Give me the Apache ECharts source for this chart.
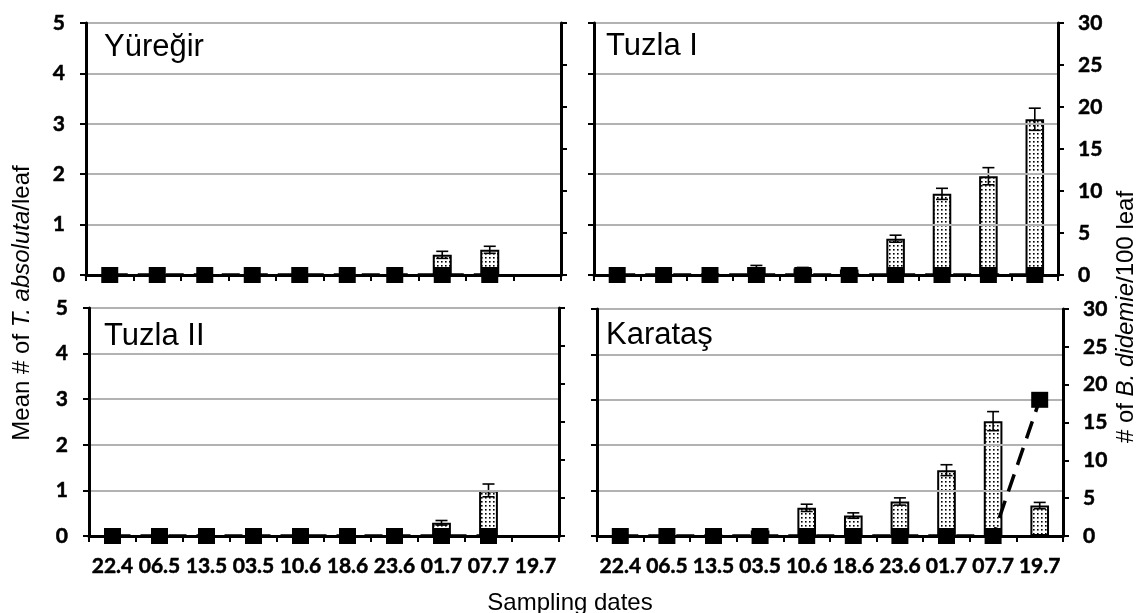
<!DOCTYPE html>
<html>
<head>
<meta charset="utf-8">
<script src="https://cdn.jsdelivr.net/npm/echarts@6/dist/echarts.min.js"></script>
<style>
html,body{margin:0;padding:0;background:#fff;}
#chart{width:1138px;height:613px;}
</style>
</head>
<body>
<div id="chart"></div>
<script>
// ---- data ----
const dates = ['22.4','06.5','13.5','03.5','10.6','18.6','23.6','01.7','07.7','19.7'];
const panelNames = ['Yüreğir','Tuzla I','Tuzla II','Karataş'];
const leftTicks = [0,1,2,3,4,5];
const rightTicks = [0,5,10,15,20,25,30];

// Mean # of T. absoluta / leaf (bars) and standard errors
const yuregirBars = [0,0,0,0,0,0,0,0.40,0.50,null];
const yuregirErr  = [0,0,0,0,0,0,0,0.07,0.07,null];
const tuzla1Bars  = [0,0,0,0.16,0.13,0.11,0.72,1.61,1.96,3.09];
const tuzla1Err   = [0,0,0,0.03,0.02,0.02,0.07,0.11,0.17,0.22];
const tuzla2Bars  = [0,0,0,0,0,0,0,0.29,1.00,null];
const tuzla2Err   = [0,0,0,0,0,0,0,0.05,0.14,null];
const karatasBars = [0,0,0,0.12,0.62,0.45,0.76,1.45,2.53,0.67];
const karatasErr  = [0,0,0,0.02,0.08,0.06,0.08,0.12,0.21,0.07];

// # of B. didemie / 100 leaf (squares, dashed line)
const yuregirMites = [0,0,0,0,0,0,0,0,0,null];
const tuzla1Mites  = [0,0,0,0,0,0,0,0,0,0];
const tuzla2Mites  = [0,0,0,0,0,0,0,0,0,null];
const karatasMites = [0,0,0,0,0,0,0,0,0,18];

const barSets = [yuregirBars, tuzla1Bars, tuzla2Bars, karatasBars];
const errSets = [yuregirErr, tuzla1Err, tuzla2Err, karatasErr];
const miteSets = [yuregirMites, tuzla1Mites, tuzla2Mites, karatasMites];

// ---- layout ----
const grids = [
  {left:86,  top:23,  width:475, height:252},
  {left:594, top:23,  width:464, height:252},
  {left:89,  top:308, width:470, height:228},
  {left:597, top:309, width:466, height:227}
];
const titlePos = [[104,32],[606,31],[104,321],[606,320]];

// dotted pattern
const pc = document.createElement('canvas');
pc.width = 4; pc.height = 4;
const pctx = pc.getContext('2d');
pctx.fillStyle = '#fff'; pctx.fillRect(0,0,4,4);
pctx.fillStyle = '#000'; pctx.fillRect(1,1,1.6,1.6);
const dotted = {image: pc, repeat: 'repeat'};

const labelFont = {fontFamily:'Lato', fontWeight:'bold', fontSize:21, color:'#000',
                   textBorderColor:'#000', textBorderWidth:0.5};
const axisLineStyle = {color:'#000', width:3};

const xAxes = [], yAxes = [], series = [], graphics = [];
for (let p = 0; p < 4; p++) {
  const bottom = p >= 2, isLeft = (p % 2 === 0);
  xAxes.push({
    type:'category', gridIndex:p, data:dates, boundaryGap:true,
    axisLine:{show:true, onZero:false, lineStyle:axisLineStyle},
    axisTick:{show:true, interval:0, length:6, lineStyle:{color:'#000', width:2}},
    axisLabel:Object.assign({show:bottom, interval:0, margin:20}, labelFont),
    splitLine:{show:false}, z:5
  });
  yAxes.push({
    type:'value', gridIndex:p, position:'left', min:leftTicks[0], max:leftTicks[leftTicks.length-1], interval:1,
    axisLine:{show:true, lineStyle:axisLineStyle},
    axisTick:{show:true, length:6, lineStyle:{color:'#000', width:2}},
    axisLabel:Object.assign({show:isLeft, margin:21}, labelFont),
    splitLine:{show:true, lineStyle:{color:'#b2b2b2', width:2}}, z:5
  });
  yAxes.push({
    type:'value', gridIndex:p, position:'right', min:rightTicks[0], max:rightTicks[rightTicks.length-1], interval:5,
    axisLine:{show:true, lineStyle:axisLineStyle},
    axisTick:{show:true, length:6, lineStyle:{color:'#000', width:2}},
    axisLabel:Object.assign({show:!isLeft, margin:20}, labelFont),
    splitLine:{show:false}, z:5
  });
  series.push({
    type:'bar', xAxisIndex:p, yAxisIndex:2*p, data:barSets[p], barWidth:'40%',
    itemStyle:{color:dotted, borderColor:'#000', borderWidth:2}, z:2, silent:true
  });
  const errData = [];
  barSets[p].forEach((v,i) => { if (v !== null && errSets[p][i]) errData.push([i, v, errSets[p][i]]); });
  series.push({
    type:'custom', xAxisIndex:p, yAxisIndex:2*p, data:errData, z:3, silent:true,
    encode:{x:0, y:1},
    renderItem:function(params, api){
      const x = api.value(0), v = api.value(1), e = api.value(2);
      const t = api.coord([x, v+e]), b = api.coord([x, v-e]);
      const h = 6, st = {stroke:'#000', lineWidth:1.6};
      return {type:'group', children:[
        {type:'line', shape:{x1:t[0], y1:t[1], x2:b[0], y2:b[1]}, style:st},
        {type:'line', shape:{x1:t[0]-h, y1:t[1], x2:t[0]+h, y2:t[1]}, style:st},
        {type:'line', shape:{x1:b[0]-h, y1:b[1], x2:b[0]+h, y2:b[1]}, style:st}
      ]};
    }
  });
  series.push({
    type:'line', xAxisIndex:p, yAxisIndex:2*p+1, data:miteSets[p],
    symbol:'rect', symbolSize:[17,16], showAllSymbol:true, clip:false,
    itemStyle:{color:'#000'}, lineStyle:{color:'#000', width:3.5, type:[18,10]},
    z:6, silent:true, animation:false
  });
  graphics.push({
    type:'text', left:titlePos[p][0], top:titlePos[p][1],
    style:{text:panelNames[p], font:'31px "Liberation Sans", Arial, sans-serif', fill:'#000'}
  });
}

graphics.push({
  type:'text', x:22, y:303, rotation:Math.PI/2,
  style:{
    text:'Mean # of {i|T.} {i|absoluta}/leaf', align:'center', verticalAlign:'middle',
    font:'24px "Liberation Sans", Arial, sans-serif', fill:'#000',
    rich:{i:{fontStyle:'italic', fontSize:24, fontFamily:'Liberation Sans'}}
  }
});
graphics.push({
  type:'text', x:1126, y:317, rotation:Math.PI/2,
  style:{
    text:'# of {i|B. didemie}/100 leaf', align:'center', verticalAlign:'middle',
    font:'24px "Liberation Sans", Arial, sans-serif', fill:'#000',
    rich:{i:{fontStyle:'italic', fontSize:24, fontFamily:'Liberation Sans'}}
  }
});
graphics.push({
  type:'text', x:570, y:603,
  style:{
    text:'Sampling dates', align:'center', verticalAlign:'middle',
    font:'24px "Liberation Sans", Arial, sans-serif', fill:'#000'
  }
});

const chart = echarts.init(document.getElementById('chart'), null, {renderer:'canvas'});
chart.setOption({
  animation:false,
  backgroundColor:'#fff',
  grid:grids,
  xAxis:xAxes,
  yAxis:yAxes,
  series:series,
  graphic:graphics
});
</script>
</body>
</html>
